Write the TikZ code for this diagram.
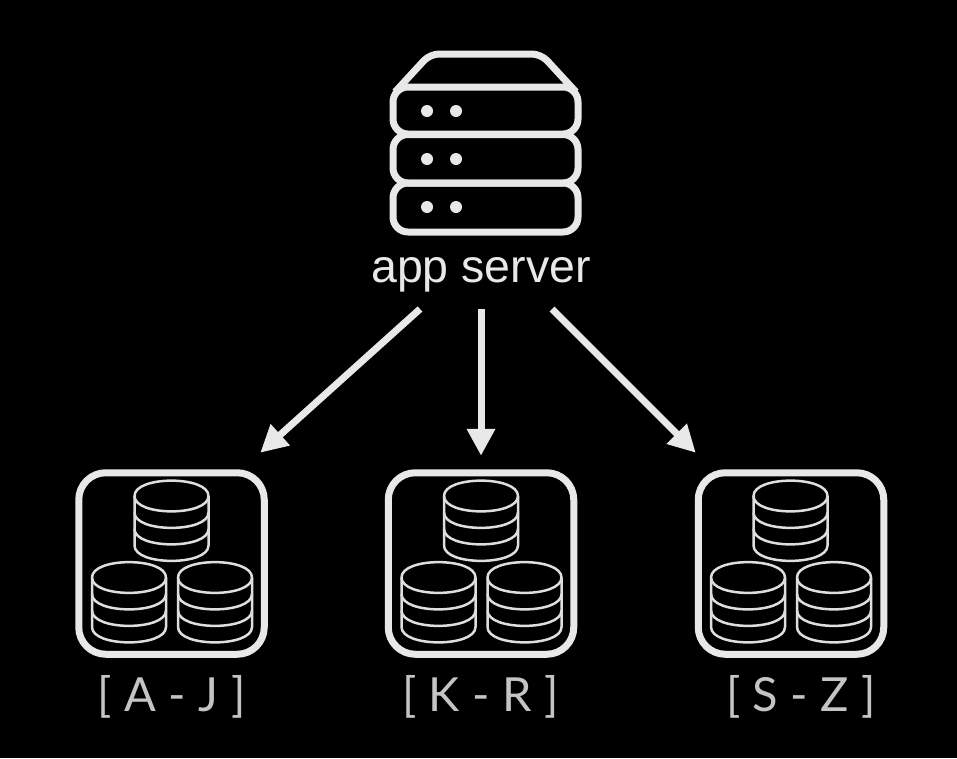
\documentclass[tikz,border=0pt]{standalone}
\usepackage{fontspec}
\setmainfont{Liberation Sans}
\newfontfamily\rangefont[LetterSpace=1]{Lato}
\usetikzlibrary{arrows.meta}
\definecolor{ink}{HTML}{E8E8E8}
\definecolor{druminks}{HTML}{DEDEDE}
\definecolor{rangeink}{HTML}{C4C4C4}
\tikzset{
  x=1pt,y=-1pt,
  shardbox/.style={draw=ink,line width=7pt,rounded corners=27pt,minimum width=185.5pt,minimum height=181.5pt,inner sep=0pt,outer sep=0pt},
  rackbox/.style={draw=ink,line width=7pt,rounded corners=15pt},
  flow/.style={draw=ink,line width=7pt,-{Triangle[length=27pt,width=27pt]}},
  rangelabel/.style={text=rangeink,font=\rangefont\fontsize{47}{47}\selectfont,inner sep=0pt,anchor=base},
  drum/.pic={
    \begin{scope}[draw=druminks,line width=2.5pt,line join=round]
    \draw (-37,0) .. controls (-37,-20.5) and (37,-20.5) .. (37,0)
                  .. controls (37,20.5) and (-37,20.5) .. (-37,0) -- cycle;
    \draw (-37,16.5) .. controls (-37,37) and (37,37) .. (37,16.5);
    \draw (-37,33) .. controls (-37,53.5) and (37,53.5) .. (37,33);
    \draw (-37,0) -- (-37,49.5) .. controls (-37,70) and (37,70) .. (37,49.5) -- (37,0);
    \end{scope}
  },
  stack/.pic={
    \pic at (0,0) {drum};
    \pic at (-42.5,81.5) {drum};
    \pic at (43.5,81.5) {drum};
  },
}
\begin{document}
\begin{tikzpicture}
\useasboundingbox (0,0) rectangle (957,758);
\fill[black] (0,0) rectangle (957,758);
% server icon
\draw[ink,line width=7pt,line join=round,rounded corners=9pt] (395,92) -- (430,54) -- (541,54) -- (576,92);
\draw[rackbox] (393,87) rectangle (578,134);
\draw[rackbox] (393,134.5) rectangle (578,183);
\draw[rackbox] (393,183) rectangle (578,232);
\foreach \yy in {111,159,207}{
  \fill[ink] (427,\yy) circle[radius=6];
  \fill[ink] (456,\yy) circle[radius=6];
}
\node[text=ink,font=\fontsize{46.5}{46.5}\selectfont,inner sep=0pt,anchor=base] (appserver) at (481,282) {app server};
% shards
\node[shardbox] (shardA) at (171.5,563.5) {};
\node[shardbox] (shardB) at (481,563.5) {};
\node[shardbox] (shardC) at (791,563.5) {};
\pic at (171.5,496) {stack};
\pic at (481,496) {stack};
\pic at (790.5,496) {stack};
\node[rangelabel] (labelA) at (171.5,711) {[ A - J ]};
\node[rangelabel] (labelB) at (480.5,711) {[ K - R ]};
\node[rangelabel] (labelC) at (801,711) {[ S - Z ]};
% connectors
\draw[flow] ([shift={(-61,27)}]appserver.base) -- ([shift={(-4,-20)}]shardA.north east);
\draw[flow] ([shift={(0,27)}]appserver.base) -- ([shift={(0,-17)}]shardB.north);
\draw[flow] ([shift={(71,27)}]appserver.base) -- ([shift={(-2.5,-20)}]shardC.north west);
\end{tikzpicture}
\end{document}
